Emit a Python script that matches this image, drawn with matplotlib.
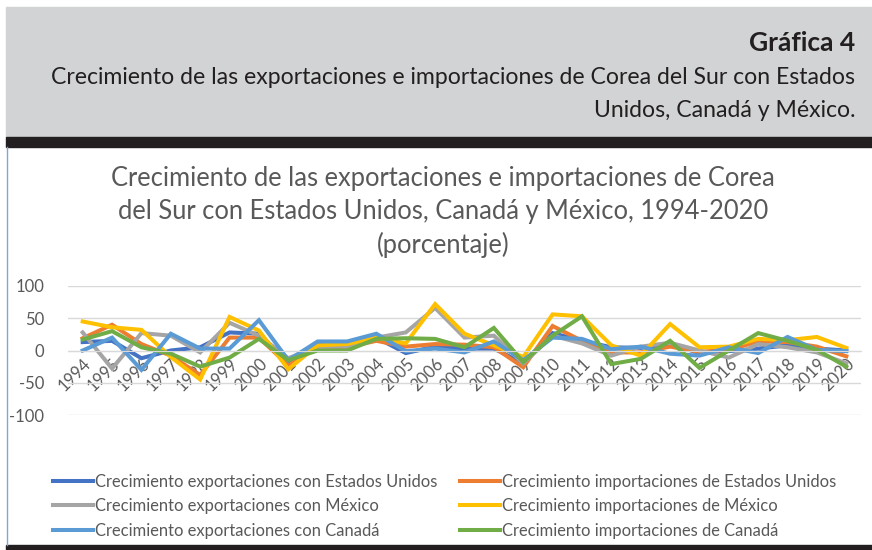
import matplotlib.pyplot as plt
from matplotlib.patches import Rectangle
from matplotlib.lines import Line2D

plt.rcParams['font.family'] = ['Lato', 'DejaVu Sans']

years = [str(y) for y in range(1994, 2021)]

# growth rates (%)
exp_us = [13, 15, -12, 0, 5, 28, 26, -18, 13, 12, 20, -4, 6, 3, 3, -20, 27, 15, 5, 4, 10, -4, -1, 3, 8, 3, 0]
imp_us = [19, 40, 10, -8, -38, 20, 20, -23, 6, 5, 15, 6, 10, 9, 5, -26, 38, 15, -3, -3, 6, -2, 1, 14, 13, 6, -9]
exp_mx = [28, -28, 27, 23, -3, 43, 23, -12, 6, 6, 20, 28, 66, 20, 23, -20, 23, 11, -8, 6, 12, 0, -11, 10, 5, -3, -20]
imp_mx = [45, 36, 32, -10, -45, 52, 31, -29, 8, 10, 20, 11, 72, 26, 8, -10, 56, 53, 8, -8, 41, 5, 6, 18, 16, 21, 4]
exp_ca = [0, 20, -30, 26, 3, 3, 47, -15, 14, 14, 26, -1, 3, -3, 14, -15, 20, 18, 2, 6, -5, -8, 5, -4, 21, 1, -1]
imp_ca = [17, 30, 5, -5, -25, -11, 18, -15, 0, 0, 18, 19, 18, 5, 35, -18, 23, 53, -21, -13, 15, -27, 0, 27, 15, 1, -25]

labels = {
    'exp_us': 'Crecimiento exportaciones con Estados Unidos',
    'imp_us': 'Crecimiento importaciones de Estados Unidos',
    'exp_mx': 'Crecimiento exportaciones con México',
    'imp_mx': 'Crecimiento importaciones de México',
    'exp_ca': 'Crecimiento exportaciones con Canadá',
    'imp_ca': 'Crecimiento importaciones de Canadá',
}
colors = {
    'exp_us': '#4472C4', 'imp_us': '#ED7D31', 'exp_mx': '#A5A5A5',
    'imp_mx': '#FFC000', 'exp_ca': '#5B9BD5', 'imp_ca': '#70AD47',
}
series = {'exp_us': exp_us, 'imp_us': imp_us, 'exp_mx': exp_mx,
          'imp_mx': imp_mx, 'exp_ca': exp_ca, 'imp_ca': imp_ca}

txt = '#595959'

fig = plt.figure(figsize=(8.72, 5.5), dpi=100)

# header band and bars
fig.add_artist(Rectangle((6/872, 1-137/550), 1, 130/550, transform=fig.transFigure,
                         color='#D1D3D4', zorder=0))
fig.add_artist(Rectangle((6/872, 1-147/550), 1, 10/550, transform=fig.transFigure,
                         color='#231F20', zorder=0))
fig.add_artist(Rectangle((6/872, 0), 1, 5/550, transform=fig.transFigure,
                         color='#231F20', zorder=0))
fig.add_artist(Line2D([6.5/872, 6.5/872], [5/550, 1-147/550], transform=fig.transFigure,
                      color='#7FA6D6', lw=1))

fig.text(855/872, 1-43/550, 'Gráfica 4', ha='right', va='center',
         fontsize=19, fontweight='bold', color='#231F20')
fig.text(855/872, 1-94/550,
         'Crecimiento de las exportaciones e importaciones de Corea del Sur con Estados\nUnidos, Canadá y México.',
         ha='right', va='center', multialignment='right', fontsize=16.6, color='#231F20',
         linespacing=1.66)

fig.text(443/872, 1-212/550,
         'Crecimiento de las exportaciones e importaciones de Corea\ndel Sur con Estados Unidos, Canadá y México, 1994-2020\n(porcentaje)',
         ha='center', va='center', fontsize=18.4, color=txt, linespacing=1.37)

ax = fig.add_axes([68/872, 1-415/550, (861-68)/872, 129/550])
x = list(range(len(years)))
handles = {}
for key in ['exp_us', 'imp_us', 'exp_mx', 'imp_mx', 'exp_ca', 'imp_ca']:
    handles[key], = ax.plot(x, series[key], color=colors[key], lw=2.9,
                            label=labels[key], solid_joinstyle='miter')

ax.set_xlim(-0.5, len(years) - 0.5)
ax.set_ylim(-100, 100)
ax.set_yticks([-100, -50, 0, 50, 100])
ax.set_yticklabels(['-100', '-50', '0', '50', '100'])
ax.grid(axis='y', color='#D9D9D9', lw=1)
ax.set_axisbelow(True)
for s in ['top', 'right', 'left']:
    ax.spines[s].set_visible(False)
ax.spines['bottom'].set_position(('data', 0))
ax.spines['bottom'].set_color('#D9D9D9')
ax.set_xticks(x)
ax.set_xticklabels(years, rotation=45, ha='right', rotation_mode='anchor')
ax.tick_params(axis='x', length=0, labelsize=12, labelcolor=txt, pad=4)
ax.tick_params(axis='y', length=0, labelsize=12, labelcolor=txt, pad=17)
ax.patch.set_alpha(0)

order = ['exp_us', 'exp_mx', 'exp_ca', 'imp_us', 'imp_mx', 'imp_ca']
leg = fig.legend([handles[k] for k in order], [labels[k] for k in order],
                 ncol=2, loc='upper left', bbox_to_anchor=(53/872, 1-474/550),
                 frameon=False, fontsize=11.9, handlelength=2.4, handletextpad=0.12,
                 columnspacing=1.4, labelspacing=0.5, borderpad=0, borderaxespad=0)
for t in leg.get_texts():
    t.set_color(txt)

fig.savefig('out.png', dpi=100)
